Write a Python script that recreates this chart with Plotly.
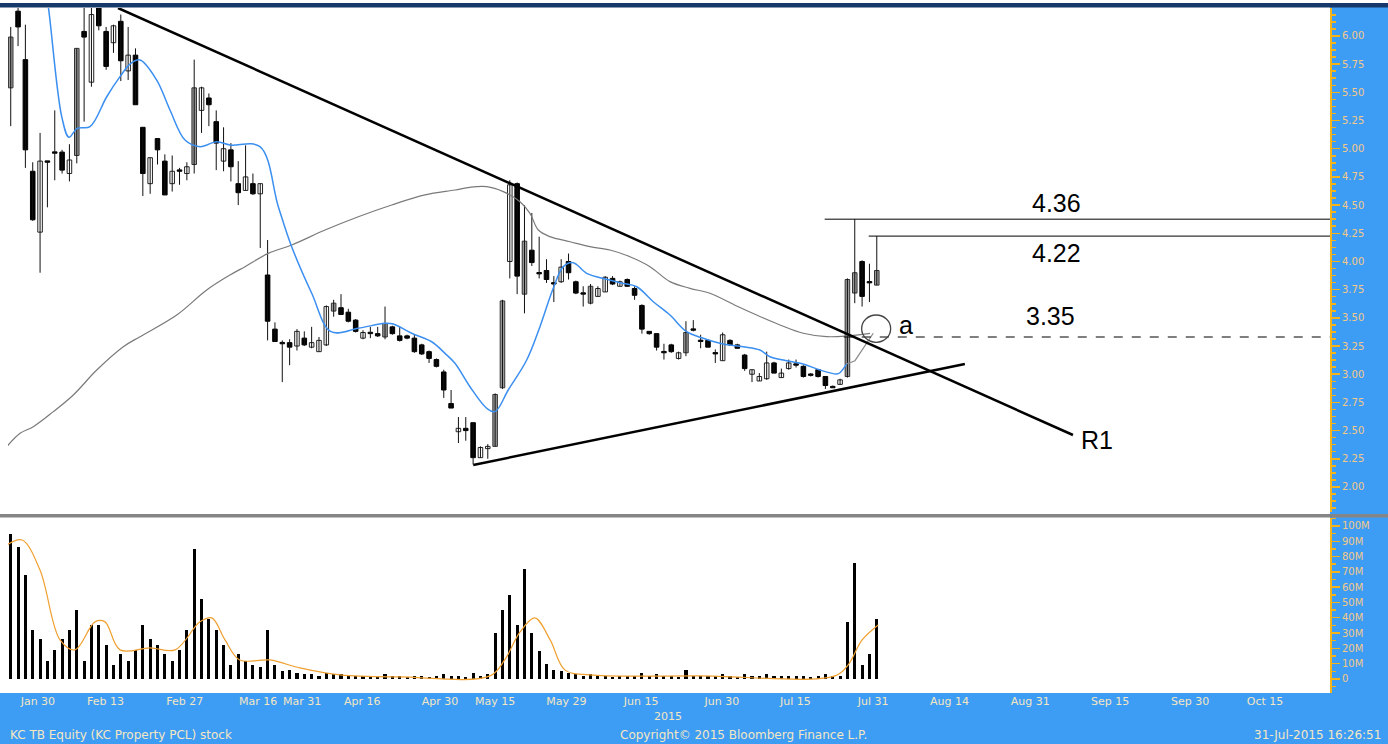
import plotly.graph_objects as go

W, H = 1388, 744

# ---------------- data ----------------
day_idx = list(range(119))
opens = [5.54, 6.22, 5.79, 4.80, 4.26, 4.89, 4.97, 4.97, 4.78, 4.94,
         6.04, 5.59, 6.30, 6.04, 5.94, 6.13, 5.69, 5.83, 5.19, 4.69,
         5.09, 4.89, 4.69, 4.81, 4.78, 4.86, 5.34, 5.45, 5.24, 4.89,
         4.99, 4.69, 4.63, 4.69, 4.60, 3.88, 3.40, 3.28, 3.28, 3.25,
         3.32, 3.24, 3.20, 3.26, 3.56, 3.59, 3.55, 3.48, 3.32, 3.37,
         3.36, 3.33, 3.42, 3.34, 3.34, 3.32, 3.26, 3.20, 3.13, 3.02,
         2.74, 2.49, 2.52, 2.57, 2.26, 2.34, 2.36, 2.88, 4.00, 4.69,
         3.71, 4.10, 3.90, 3.92, 3.81, 3.82, 4.00, 3.82, 3.72, 3.63,
         3.69, 3.73, 3.85, 3.78, 3.84, 3.76, 3.61, 3.38, 3.36, 3.20,
         3.26, 3.14, 3.19, 3.40, 3.30, 3.30, 3.19, 3.12, 3.30, 3.26,
         3.17, 3.00, 2.94, 2.96, 3.10, 2.97, 3.05, 3.09, 3.07, 3.00,
         3.04, 2.98, 2.89, 2.91, 2.98, 3.72, 4.00, 3.82, 3.79]
highs = [6.08, 6.30, 6.10, 4.88, 5.14, 4.89, 5.34, 4.99, 5.04, 5.89,
         6.25, 6.25, 6.32, 6.08, 6.10, 6.19, 6.08, 5.89, 5.19, 4.92,
         5.09, 4.95, 4.94, 4.83, 4.88, 5.79, 5.55, 5.49, 5.34, 5.19,
         5.05, 4.89, 5.03, 4.78, 4.69, 4.19, 3.46, 3.30, 3.31, 3.40,
         3.38, 3.42, 3.33, 3.61, 3.66, 3.71, 3.58, 3.49, 3.39, 3.42,
         3.42, 3.60, 3.43, 3.42, 3.35, 3.35, 3.27, 3.21, 3.14, 3.04,
         2.86, 2.62, 2.62, 2.57, 2.36, 2.38, 2.83, 3.66, 4.72, 4.70,
         4.50, 4.43, 4.22, 4.02, 3.87, 4.02, 4.07, 3.83, 3.78, 3.80,
         3.78, 3.87, 3.87, 3.83, 3.85, 3.78, 3.62, 3.38, 3.36, 3.27,
         3.27, 3.20, 3.47, 3.48, 3.35, 3.31, 3.22, 3.37, 3.31, 3.27,
         3.18, 3.04, 3.01, 3.20, 3.11, 3.05, 3.13, 3.13, 3.08, 3.01,
         3.04, 2.98, 2.90, 2.96, 3.85, 4.375, 4.01, 3.98, 4.225]
lows = [5.20, 5.91, 4.83, 4.36, 3.90, 4.48, 4.72, 4.78, 4.71, 4.87,
        5.24, 5.55, 6.05, 5.70, 5.85, 5.60, 5.61, 5.39, 4.58, 4.60,
        4.86, 4.59, 4.62, 4.68, 4.72, 4.78, 5.14, 5.20, 4.81, 4.80,
        4.71, 4.50, 4.63, 4.59, 4.12, 3.30, 3.29, 2.93, 3.08, 3.21,
        3.25, 3.23, 3.20, 3.25, 3.51, 3.53, 3.46, 3.37, 3.31, 3.32,
        3.33, 3.31, 3.35, 3.29, 3.31, 3.19, 3.17, 3.10, 3.06, 2.79,
        2.70, 2.39, 2.41, 2.20, 2.26, 2.25, 2.36, 2.87, 3.85, 3.71,
        3.54, 3.96, 3.85, 3.81, 3.64, 3.81, 3.84, 3.71, 3.60, 3.62,
        3.69, 3.73, 3.79, 3.78, 3.78, 3.66, 3.36, 3.35, 3.21, 3.13,
        3.19, 3.13, 3.16, 3.38, 3.23, 3.24, 3.10, 3.12, 3.25, 3.23,
        3.03, 2.93, 2.94, 2.95, 3.01, 2.97, 3.04, 3.06, 2.97, 2.98,
        2.97, 2.87, 2.88, 2.91, 2.97, 3.63, 3.60, 3.64, 3.79]
closes = [5.99, 6.08, 4.99, 4.37, 4.89, 4.88, 4.96, 4.81, 4.90, 5.89,
          5.99, 6.19, 6.09, 5.73, 6.09, 5.78, 5.83, 5.39, 4.78, 4.92,
          4.99, 4.59, 4.80, 4.80, 4.84, 5.54, 5.54, 5.39, 5.05, 5.00,
          4.84, 4.61, 4.75, 4.60, 4.69, 3.47, 3.29, 3.27, 3.24, 3.38,
          3.26, 3.28, 3.30, 3.60, 3.63, 3.53, 3.47, 3.38, 3.37, 3.36,
          3.34, 3.45, 3.36, 3.30, 3.32, 3.20, 3.18, 3.14, 3.07, 2.86,
          2.70, 2.52, 2.50, 2.26, 2.35, 2.36, 2.82, 3.65, 4.68, 3.87,
          4.18, 3.99, 3.89, 3.84, 3.80, 3.95, 3.90, 3.72, 3.71, 3.78,
          3.76, 3.86, 3.80, 3.82, 3.78, 3.70, 3.40, 3.36, 3.24, 3.19,
          3.20, 3.19, 3.37, 3.39, 3.29, 3.24, 3.18, 3.35, 3.26, 3.23,
          3.05, 3.04, 2.98, 3.10, 3.01, 3.01, 3.10, 3.08, 2.98, 2.99,
          2.98, 2.90, 2.88, 2.95, 3.84, 3.90, 3.69, 3.81, 3.92]
# up-days that Bloomberg shades grey instead of hollow
grey_up_days = [0, 9, 25, 44, 51, 66, 67, 70, 79, 92, 114, 115, 118]

volume_m = [95, 86, 68, 32, 26, 12, 19, 26, 32, 45,
            12, 35, 35, 22, 9, 16, 12, 19, 35, 26,
            22, 16, 12, 19, 32, 85, 52, 39, 32, 22,
            9, 16, 12, 9, 8, 32, 9, 5, 6, 4,
            3, 3, 2, 4, 3, 3, 2, 2, 2, 1.5,
            1.5, 3, 2, 2, 1.5, 2, 2, 1.5, 2, 3,
            2, 2, 1.5, 4, 2, 3, 30, 45, 55, 35,
            72, 30, 18, 10, 6, 5, 4, 3, 2, 3,
            2, 2, 1.5, 2, 2, 2, 4, 2, 3, 2,
            2, 1.5, 6, 2, 2, 2, 2, 3, 2, 1.5,
            3, 2, 2, 3, 2, 2, 2, 2, 2, 1.5,
            2, 3, 2, 2, 37, 76, 9, 16, 39]

# short (blue) moving average
ma_short_x = [4.6, 5.12, 6.95, 7.94, 9.07, 10.80, 13.08, 14.89, 16.25, 17.6,
              19.89, 21.70, 23.75, 25.79, 28.07, 29.88, 33.96, 36.46, 38.28, 41.01,
              43.64, 47.36, 50.99, 52.13, 54.63, 57.36, 59.17, 60.53, 62.57, 64.85,
              65.98, 67.79, 70.30, 72.11, 73.92, 75.29, 76.65, 78.47, 81.20, 83.01,
              85.29, 87.55, 89.82, 92.10, 94.36, 97.08, 99.81, 102.08, 103.45, 105.72,
              107.98, 110.26, 112.53, 112.98, 113.90]
ma_short_y = [6.45, 6.26, 5.284, 5.101, 5.181, 5.195, 5.461, 5.639, 5.751, 5.787,
              5.609, 5.343, 5.077, 5.018, 5.062, 5.033, 5.018, 4.486, 4.131, 3.718,
              3.377, 3.407, 3.452, 3.445, 3.363, 3.288, 3.185, 3.097, 2.889, 2.698,
              2.668, 2.860, 3.126, 3.422, 3.762, 3.954, 3.989, 3.895, 3.842, 3.812,
              3.776, 3.643, 3.525, 3.377, 3.319, 3.268, 3.244, 3.215, 3.155, 3.120,
              3.091, 3.037, 3.002, 3.013, 3.091]
ma_short_tail_x = [113.90, 115.03, 117.52]
ma_short_tail_y = [3.091, 3.120, 3.363]

# long (grey) moving average
ma_long_x = [-0.5, 1.27, 3.08, 5.80, 8.53, 11.72, 15.34, 17.62, 22.62, 26.70,
             29.88, 31.92, 35.10, 38.28, 42.82, 47.36, 51.91, 56.44, 60.53, 62.57,
             64.85, 67.11, 69.39, 70.75, 71.88, 73.47, 76.20, 78.92, 81.65, 84.37,
             87.10, 89.82, 92.55, 95.27, 98.91, 101.63, 104.81, 107.98, 111.17, 113.90,
             117.07]
ma_long_y = [2.36, 2.476, 2.535, 2.668, 2.816, 3.037, 3.244, 3.333, 3.525, 3.747,
             3.880, 3.954, 4.072, 4.146, 4.279, 4.397, 4.501, 4.590, 4.634, 4.658,
             4.663, 4.619, 4.530, 4.427, 4.279, 4.220, 4.175, 4.131, 4.102, 4.042,
             3.954, 3.821, 3.762, 3.718, 3.605, 3.525, 3.437, 3.363, 3.333, 3.339,
             3.363]

# volume moving average (orange)
vol_ma_x = [-0.5, 1.54, 3.99, 6.72, 8.76, 11.48, 12.85, 14.89, 18.98, 22.4,
            25.79, 27.4, 29.2, 31.2, 35.3, 39.4, 44.9, 53.0, 65.3, 67.3,
            69.4, 71.4, 73.5, 75.5, 78.9, 93.9, 112.3, 114.1, 116.0, 118.2]
vol_ma_y = [87.6, 90.8, 71.2, 25.5, 19.0, 37.3, 37.3, 19.0, 20.3, 19.0,
            37.3, 39.9, 25.5, 12.4, 12.4, 7.2, 2.6, 1.3, 2.0, 12.4,
            30.7, 39.9, 25.5, 5.9, 2.6, 2.0, 2.0, 9.2, 25.5, 35.3]

# drawn analysis: trend lines (day index, price)
resist_x = [14.62, 144.73]
resist_y = [6.248, 2.461]
support_x = [63.02, 130.0]
support_y = [2.195, 3.091]
level_values = [4.375, 4.225, 3.33]
level_start = [110.9, 116.9, 113.5]
level_labels = ["4.36", "4.22", "3.35"]
level_label_pos = [(142.5, 4.519), (142.5, 4.075), (141.6, 3.516)]

x_tick_pos = [3.7, 12.9, 23.7, 33.7, 39.7, 47.9, 58.5, 66.0, 75.7, 85.9,
              96.9, 106.9, 117.5, 127.9, 138.9, 149.8, 160.7, 170.9]
x_tick_text = ["Jan 30", "Feb 13", "Feb 27", "Mar 16", "Mar 31", "Apr 16", "Apr 30",
               "May 15", "May 29", "Jun 15", "Jun 30", "Jul 15", "Jul 31", "Aug 14",
               "Aug 31", "Sep 15", "Sep 30", "Oct 15"]
vol_tick_vals = [0, 10, 20, 30, 40, 50, 60, 70, 80, 90, 100]
vol_tick_text = ["0", "10M", "20M", "30M", "40M", "50M", "60M", "70M", "80M", "90M", "100M"]

# ---------------- layout geometry (pixels) ----------------
PX_L, PX_R = 8, 1330
PRICE_TOP, PRICE_BOT = 8, 512
VOL_TOP, VOL_BOT = 518, 693
X_RANGE = [-0.37, 179.75]
P_RANGE = [1.778, 6.248]
V_RANGE = [-9.2, 105.2]

def px(x):
    return x / W

def py(y):
    return 1 - y / H

BAND = "#3d9cf3"
AXIS_ORANGE = "#f4b41a"
LABEL_ORANGE = "#f3c98a"
LABEL_CREAM = "#f4e7c4"

fig = go.Figure()

# wicks
wx, wy = [], []
for i, hi, lo in zip(day_idx, highs, lows):
    wx += [i, i, None]
    wy += [lo, hi, None]
fig.add_trace(go.Scatter(x=wx, y=wy, mode="lines", line=dict(color="#111111", width=1),
                         hoverinfo="skip", showlegend=False, xaxis="x", yaxis="y"))

# bodies
groups = {"black": ([], [], []), "white": ([], [], []), "grey": ([], [], [])}
for i, o, c in zip(day_idx, opens, closes):
    lo_b = min(o, c)
    hgt = max(abs(c - o), 0.012)
    if c < o:
        key = "black"
    elif i in grey_up_days:
        key = "grey"
    else:
        key = "white"
    groups[key][0].append(i)
    groups[key][1].append(hgt)
    groups[key][2].append(lo_b)

styles = {"black": ("#000000", "#000000"), "white": ("#ffffff", "#222222"),
          "grey": ("#9a9a9a", "#333333")}
for key, (xs, hs, bs) in groups.items():
    fill, edge = styles[key]
    fig.add_trace(go.Bar(x=xs, y=hs, base=bs, width=0.62,
                         marker=dict(color=fill, line=dict(color=edge, width=1)),
                         showlegend=False, hoverinfo="skip", xaxis="x", yaxis="y"))

# moving averages
fig.add_trace(go.Scatter(x=ma_long_x, y=ma_long_y, mode="lines",
                         line=dict(color="#7a7a7a", width=1.2, shape="spline"),
                         showlegend=False, hoverinfo="skip", xaxis="x", yaxis="y"))
fig.add_trace(go.Scatter(x=ma_short_x, y=ma_short_y, mode="lines",
                         line=dict(color="#3b8ff0", width=1.5, shape="spline"),
                         showlegend=False, hoverinfo="skip", xaxis="x", yaxis="y"))
fig.add_trace(go.Scatter(x=ma_short_tail_x, y=ma_short_tail_y, mode="lines",
                         line=dict(color="#8a8a8a", width=1.2),
                         showlegend=False, hoverinfo="skip", xaxis="x", yaxis="y"))

# volume
fig.add_trace(go.Bar(x=day_idx, y=volume_m, width=0.42, marker=dict(color="#000000", line=dict(width=0)),
                     showlegend=False, hoverinfo="skip", xaxis="x2", yaxis="y2"))
fig.add_trace(go.Scatter(x=vol_ma_x, y=vol_ma_y, mode="lines",
                         line=dict(color="#f0a030", width=1.2, shape="spline"),
                         showlegend=False, hoverinfo="skip", xaxis="x2", yaxis="y2"))

shapes = []
# background bands
shapes.append(dict(type="rect", xref="paper", yref="paper", x0=0, x1=1, y0=0, y1=py(VOL_BOT),
                   fillcolor=BAND, line=dict(width=0), layer="below"))
shapes.append(dict(type="rect", xref="paper", yref="paper", x0=px(PX_R), x1=1, y0=0, y1=py(7),
                   fillcolor=BAND, line=dict(width=0), layer="below"))
shapes.append(dict(type="rect", xref="paper", yref="paper", x0=0, x1=1, y0=py(7.5), y1=py(3),
                   fillcolor="#17386a", line=dict(width=0), layer="above"))
shapes.append(dict(type="rect", xref="paper", yref="paper", x0=0, x1=1, y0=py(517.5), y1=py(514),
                   fillcolor="#858585", line=dict(width=0), layer="above"))
# trend lines
shapes.append(dict(type="line", xref="x", yref="y", x0=resist_x[0], x1=resist_x[1],
                   y0=resist_y[0], y1=resist_y[1], line=dict(color="#000000", width=2.5)))
shapes.append(dict(type="line", xref="x", yref="y", x0=support_x[0], x1=support_x[1],
                   y0=support_y[0], y1=support_y[1], line=dict(color="#000000", width=2.5)))
# level lines
for k, (lv, xs) in enumerate(zip(level_values, level_start)):
    shapes.append(dict(type="line", xref="x", yref="y", x0=xs, x1=X_RANGE[1], y0=lv, y1=lv,
                       line=dict(color="#000000", width=1, dash="dash" if k == 2 else "solid")))
# circle "a"
shapes.append(dict(type="circle", xref="x", yref="y", x0=115.94, x1=119.89, y0=3.283, y1=3.525,
                   line=dict(color="#444444", width=1.3)))

ann = []
big_font = dict(family="Arial, Liberation Sans, sans-serif", size=25, color="#000000")
for txt, (ax_, ay_) in zip(level_labels, level_label_pos):
    ann.append(dict(x=ax_, y=ay_, xref="x", yref="y", text=txt, showarrow=False,
                    xanchor="center", yanchor="middle", font=big_font))
ann.append(dict(x=122.0, y=3.437, xref="x", yref="y", text="a", showarrow=False,
                xanchor="center", yanchor="middle", font=big_font))
ann.append(dict(x=148.0, y=2.417, xref="x", yref="y", text="R1", showarrow=False,
                xanchor="center", yanchor="middle", font=big_font))
foot_font = dict(family="DejaVu Sans, Verdana, sans-serif", size=12, color=LABEL_CREAM)
ann.append(dict(x=px(668), y=py(716), xref="paper", yref="paper", text="2015", showarrow=False,
                xanchor="center", yanchor="middle",
                font=dict(family="DejaVu Sans, sans-serif", size=11, color=LABEL_CREAM)))
ann.append(dict(x=px(8), y=py(735), xref="paper", yref="paper", text="KC TB Equity (KC Property PCL) stock",
                showarrow=False, xanchor="left", yanchor="middle", font=foot_font))
ann.append(dict(x=px(743), y=py(735), xref="paper", yref="paper", text="Copyright© 2015 Bloomberg Finance L.P.",
                showarrow=False, xanchor="center", yanchor="middle", font=foot_font))
ann.append(dict(x=px(1383), y=py(735), xref="paper", yref="paper", text="31-Jul-2015 16:26:51",
                showarrow=False, xanchor="right", yanchor="middle", font=foot_font))

tickfont = dict(family="DejaVu Sans, Verdana, sans-serif", size=10, color=LABEL_ORANGE)

fig.update_layout(
    width=W, height=H, margin=dict(l=0, r=0, t=0, b=0, pad=0),
    paper_bgcolor="#ffffff", plot_bgcolor="#ffffff",
    barmode="overlay", showlegend=False, bargap=0,
    shapes=shapes, annotations=ann,
    xaxis=dict(domain=[px(PX_L), px(PX_R)], range=X_RANGE, anchor="y",
               showticklabels=False, showgrid=False, zeroline=False, ticks=""),
    yaxis=dict(domain=[py(PRICE_BOT), py(PRICE_TOP)], range=P_RANGE, anchor="x", side="right",
               tickmode="linear", tick0=2.0, dtick=0.25, tickformat=".2f",
               ticks="outside", ticklen=8, tickwidth=1.5, tickcolor=AXIS_ORANGE,
               showline=True, linecolor=AXIS_ORANGE, linewidth=2,
               minor=dict(ticks="outside", ticklen=4, tickcolor=AXIS_ORANGE, dtick=0.0625, tick0=2.0),
               showgrid=False, zeroline=False, tickfont=tickfont),
    xaxis2=dict(domain=[px(PX_L), px(PX_R)], range=X_RANGE, anchor="y2", matches="x",
                tickmode="array", tickvals=x_tick_pos, ticktext=x_tick_text,
                ticks="", showgrid=False, zeroline=False,
                tickfont=dict(family="DejaVu Sans, Verdana, sans-serif", size=11, color=LABEL_CREAM)),
    yaxis2=dict(domain=[py(VOL_BOT), py(VOL_TOP)], range=V_RANGE, anchor="x2", side="right",
                tickmode="array", tickvals=vol_tick_vals, ticktext=vol_tick_text,
                ticks="outside", ticklen=8, tickwidth=1.5, tickcolor=AXIS_ORANGE,
                showline=True, linecolor=AXIS_ORANGE, linewidth=2,
                minor=dict(ticks="outside", ticklen=4, tickcolor=AXIS_ORANGE, dtick=5, tick0=0),
                showgrid=False, zeroline=False, tickfont=tickfont),
)

fig.write_html("out.html",
               config={"displayModeBar": False, "staticPlot": True},
               post_script="document.body.style.margin='0px';document.body.style.overflow='hidden';")
